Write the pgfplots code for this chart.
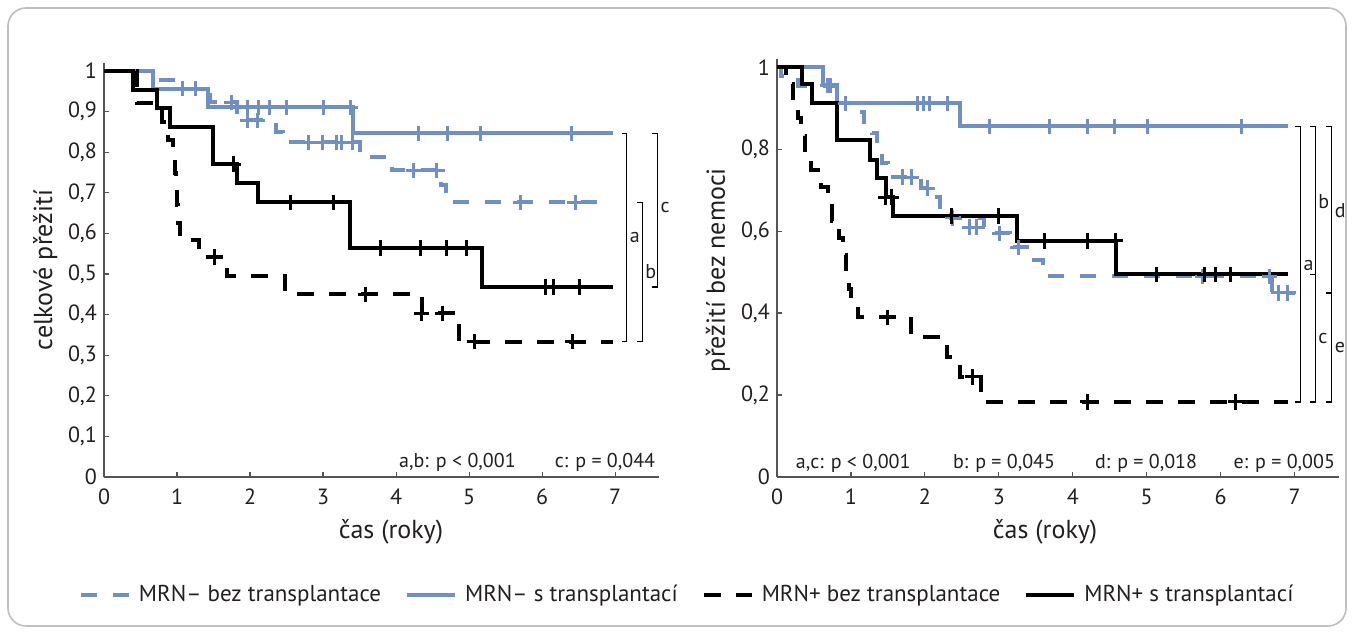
\documentclass[border=0pt]{standalone}
\usepackage{pgfplots}
\pgfplotsset{compat=1.18}
\usepackage{fontspec}
\setmainfont{PT Sans}
\definecolor{mrnblue}{RGB}{112,143,194}
\definecolor{axisgray}{RGB}{85,85,85}
\definecolor{txt}{RGB}{35,31,32}

\pgfplotsset{
  kmaxis/.style={
    scale only axis, anchor=south west,
    xmin=0, xmax=7.6, ymin=0, ymax=1.02,
    axis x line*=bottom, axis y line*=left,
    axis line style={-, axisgray, line width=0.8pt},
    tick style={axisgray, line width=0.6pt},
    tick align=inside, major tick length=2.5pt,
    xtick={0,1,2,3,4,5,6,7}, xticklabels={0,1,2,3,4,5,6,7},
    xticklabel style={yshift=-2.5pt},
    tick label style={font=\fontsize{11}{13}\selectfont, text=txt},
    label style={font=\fontsize{13}{15}\selectfont, text=txt},
    clip=false,
  },
  km/.style={const plot, line width=2pt},
  cens/.style={only marks, mark=+, mark size=3.8pt,
    mark options={solid, line width=1.5pt}, forget plot},
  brk/.style={black, line width=0.6pt, forget plot},
}
\tikzset{
  bluedash/.style={dash pattern=on 8pt off 8pt},
  blackdash/.style={dash pattern=on 8.5pt off 7.5pt},
  brklab/.style={font=\fontsize{10}{11}\selectfont, text=txt, anchor=west, inner sep=1pt},
  ptext/.style={font=\fontsize{10}{11}\selectfont, text=txt, anchor=center},
}

\begin{document}
\begin{tikzpicture}
\useasboundingbox (0pt,0pt) rectangle (677pt,317.5pt);
\draw[gray!50, line width=0.8pt, rounded corners=9pt] (4pt,4.5pt) rectangle (673pt,313.5pt);

% ---------- overall survival ----------
\begin{axis}[kmaxis, at={(52pt,79pt)}, width=277.5pt, height=207pt,
  ytick={0,0.1,0.2,0.3,0.4,0.5,0.6,0.7,0.8,0.9,1},
  yticklabels={0,{0,1},{0,2},{0,3},{0,4},{0,5},{0,6},{0,7},{0,8},{0,9},1},
  xlabel={čas (roky)}, ylabel={celkové přežití},
  xlabel style={at={(axis description cs:0.517,-0.133)}, anchor=center},
  ylabel style={at={(axis description cs:-0.106,0.5)}, anchor=center},
]
% MRN- without transplantation
\addplot[km, mrnblue, bluedash] coordinates {(0,1) (0.7,0.977) (1.0,0.955) (1.45,0.923) (1.82,0.9) (1.9,0.879) (2.35,0.85) (2.45,0.825) (3.5,0.788) (3.95,0.756) (4.62,0.72) (4.68,0.677) (6.78,0.677)};
\addplot[cens, mrnblue] coordinates {(1.75,0.923) (1.96,0.879) (2.1,0.879) (2.8,0.825) (2.99,0.825) (3.19,0.825) (3.25,0.825) (3.4,0.825) (4.24,0.756) (4.56,0.756) (5.7,0.677) (6.45,0.677)};
% MRN- with transplantation
\addplot[km, mrnblue] coordinates {(0,1) (0.67,0.957) (1.42,0.911) (3.41,0.847) (6.97,0.847)};
\addplot[cens, mrnblue] coordinates {(1.08,0.957) (1.25,0.957) (1.97,0.911) (2.11,0.911) (2.27,0.911) (2.5,0.911) (3.0,0.911) (3.38,0.911) (4.3,0.847) (4.71,0.847) (5.16,0.847) (6.4,0.847)};
% MRN+ without transplantation
\addplot[km, black, blackdash] coordinates {(0,1) (0.45,0.921) (0.8,0.875) (0.88,0.83) (0.95,0.79) (0.97,0.75) (0.99,0.71) (1.0,0.67) (1.02,0.625) (1.04,0.583) (1.3,0.542) (1.68,0.495) (2.48,0.45) (4.35,0.403) (4.86,0.333) (6.97,0.333)};
\addplot[cens, black] coordinates {(1.52,0.542) (3.58,0.45) (4.35,0.403) (4.63,0.403) (5.08,0.333) (6.42,0.333)};
% MRN+ with transplantation
\addplot[km, black] coordinates {(0,1) (0.4,0.953) (0.72,0.909) (0.9,0.862) (1.49,0.771) (1.82,0.724) (2.11,0.677) (3.37,0.564) (5.18,0.468) (6.97,0.468)};
\addplot[cens, black] coordinates {(1.77,0.771) (2.55,0.677) (3.14,0.677) (3.78,0.564) (4.34,0.564) (4.69,0.564) (4.97,0.564) (6.04,0.468) (6.15,0.468) (6.51,0.468)};
% comparison brackets
\addplot[brk] coordinates {(7.09,0.847) (7.16,0.847) (7.16,0.333) (7.09,0.333)};
\addplot[brk] coordinates {(7.30,0.677) (7.37,0.677) (7.37,0.333) (7.30,0.333)};
\addplot[brk] coordinates {(7.51,0.847) (7.58,0.847) (7.58,0.468) (7.51,0.468)};
\node[brklab] at (axis cs:7.17,0.589) {a};
\node[brklab] at (axis cs:7.38,0.507) {b};
\node[brklab] at (axis cs:7.59,0.665) {c};
\node[ptext] at (axis cs:4.84,0.037) {a,b: p < 0,001};
\node[ptext] at (axis cs:6.86,0.037) {c: p = 0,044};
\end{axis}

% ---------- disease-free survival ----------
\begin{axis}[kmaxis, at={(388.5pt,79pt)}, width=281pt, height=209pt,
  ytick={0,0.2,0.4,0.6,0.8,1},
  yticklabels={0,{0,2},{0,4},{0,6},{0,8},1},
  xlabel={čas (roky)}, ylabel={přežití bez nemoci},
  xlabel style={at={(axis description cs:0.477,-0.131)}, anchor=center},
  ylabel style={at={(axis description cs:-0.105,0.495)}, anchor=center},
  legend style={at={(-0.158,-0.282)}, anchor=center, draw=none, fill=none,
    legend columns=4, font=\fontsize{11.5}{13}\selectfont, text=txt,
    /tikz/every odd column/.append style={column sep=2pt},
    /tikz/every even column/.append style={column sep=10pt}},
  legend image code/.code={\draw[#1] (0pt,0pt) -- (24pt,0pt);},
]
\addlegendimage{mrnblue, line width=2pt, bluedash}
\addlegendentry{MRN– bez transplantace}
\addlegendimage{mrnblue, line width=2pt}
\addlegendentry{MRN– s transplantací}
\addlegendimage{black, line width=2pt, blackdash}
\addlegendentry{MRN+ bez transplantace}
\addlegendimage{black, line width=2pt}
\addlegendentry{MRN+ s transplantací}
% MRN- without transplantation
\addplot[km, mrnblue, bluedash, forget plot] coordinates {(0,1) (0.05,0.978) (0.28,0.955) (0.81,0.912) (1.12,0.89) (1.17,0.866) (1.28,0.84) (1.35,0.8) (1.42,0.765) (1.5,0.732) (1.95,0.705) (2.08,0.683) (2.2,0.66) (2.35,0.632) (2.8,0.61) (2.95,0.595) (3.15,0.56) (3.45,0.53) (3.6,0.49) (6.7,0.449) (7.0,0.449)};
\addplot[cens, mrnblue] coordinates {(1.7,0.732) (1.82,0.732) (2.04,0.705) (2.38,0.632) (2.6,0.61) (2.7,0.61) (3.01,0.595) (3.26,0.56) (5.75,0.49) (6.66,0.49) (6.78,0.449) (6.91,0.449)};
% MRN- with transplantation
\addplot[km, mrnblue, forget plot] coordinates {(0,1) (0.62,0.956) (0.81,0.912) (2.48,0.856) (6.91,0.856)};
\addplot[cens, mrnblue] coordinates {(0.68,0.956) (0.72,0.956) (0.93,0.912) (1.9,0.912) (1.98,0.912) (2.06,0.912) (2.3,0.912) (2.88,0.856) (3.68,0.856) (4.2,0.856) (4.57,0.856) (5.01,0.856) (6.28,0.856)};
% MRN+ without transplantation
\addplot[km, black, blackdash, forget plot] coordinates {(0,1) (0.12,0.958) (0.22,0.917) (0.28,0.875) (0.33,0.833) (0.38,0.792) (0.46,0.75) (0.6,0.708) (0.69,0.667) (0.74,0.625) (0.84,0.583) (0.89,0.542) (0.93,0.5) (0.97,0.458) (1.0,0.42) (1.09,0.39) (1.81,0.342) (2.3,0.293) (2.47,0.244) (2.76,0.183) (6.91,0.183)};
\addplot[cens, black] coordinates {(1.5,0.39) (2.65,0.244) (4.2,0.183) (6.2,0.183)};
% MRN+ with transplantation
\addplot[km, black, forget plot] coordinates {(0,1) (0.34,0.959) (0.47,0.912) (0.81,0.822) (1.26,0.773) (1.35,0.729) (1.47,0.683) (1.57,0.637) (3.24,0.576) (4.59,0.495) (6.91,0.495)};
\addplot[cens, black] coordinates {(1.47,0.683) (1.55,0.683) (2.36,0.637) (2.99,0.637) (3.62,0.576) (4.2,0.576) (4.58,0.576) (5.13,0.495) (5.78,0.495) (5.93,0.495) (6.13,0.495)};
% comparison brackets
\addplot[brk] coordinates {(7.01,0.856) (7.08,0.856) (7.08,0.183) (7.01,0.183)};
\addplot[brk] coordinates {(7.21,0.856) (7.28,0.856) (7.28,0.183) (7.21,0.183)};
\addplot[brk] coordinates {(7.21,0.495) (7.28,0.495)};
\addplot[brk] coordinates {(7.43,0.856) (7.5,0.856) (7.5,0.183) (7.43,0.183)};
\addplot[brk] coordinates {(7.43,0.449) (7.5,0.449)};
\node[brklab] at (axis cs:7.09,0.517) {a};
\node[brklab] at (axis cs:7.29,0.671) {b};
\node[brklab] at (axis cs:7.29,0.339) {c};
\node[brklab] at (axis cs:7.51,0.651) {d};
\node[brklab] at (axis cs:7.51,0.317) {e};
\node[ptext] at (axis cs:1.03,0.032) {a,c: p < 0,001};
\node[ptext] at (axis cs:3.07,0.032) {b: p = 0,045};
\node[ptext] at (axis cs:4.99,0.032) {d: p = 0,018};
\node[ptext] at (axis cs:6.86,0.032) {e: p = 0,005};
\end{axis}
\end{tikzpicture}
\end{document}
